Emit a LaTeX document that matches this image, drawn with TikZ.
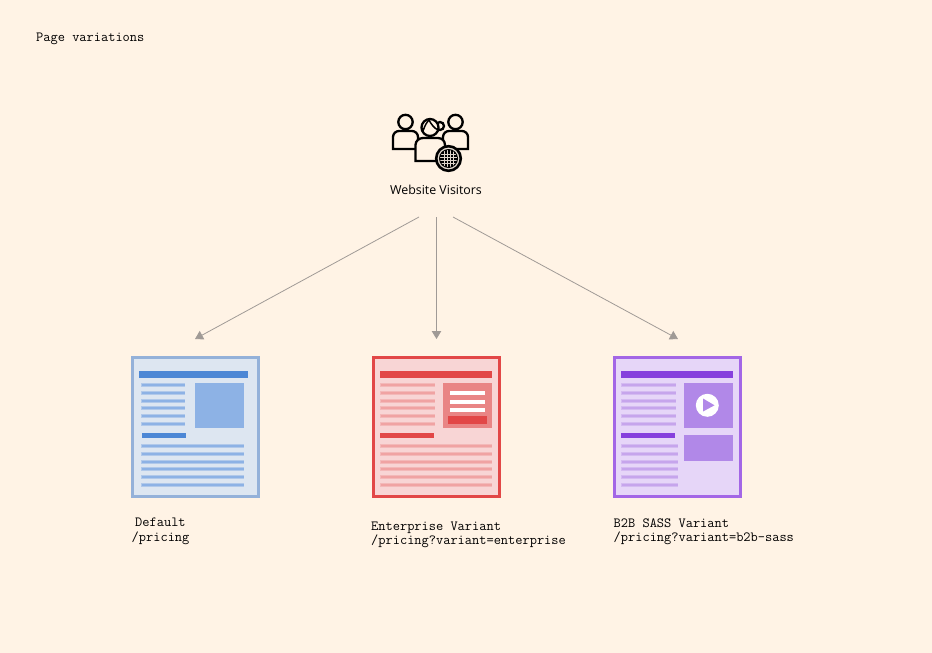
\documentclass[tikz,border=0pt]{standalone}
\usepackage{fontspec}
\setsansfont{Open Sans}
\usetikzlibrary{arrows.meta}
\definecolor{bgc}{HTML}{FFF3E5}
\definecolor{arrowc}{HTML}{A09A96}
\definecolor{bluefill}{HTML}{DDE6F1}
\definecolor{blueedge}{HTML}{94B1D9}
\definecolor{bluedark}{HTML}{4C87D5}
\definecolor{bluemid}{HTML}{8DB2E5}
\definecolor{redfill}{HTML}{F8D5D5}
\definecolor{rededge}{HTML}{E24747}
\definecolor{redmid}{HTML}{F0A3A3}
\definecolor{redimg}{HTML}{E98585}
\definecolor{purfill}{HTML}{E6D6F8}
\definecolor{puredge}{HTML}{A366E6}
\definecolor{purdark}{HTML}{8640DD}
\definecolor{purmid}{HTML}{C6A5EC}
\definecolor{purimg}{HTML}{B188E8}
\tikzset{
  x=1pt,y=-1pt,
  pagebox/.style={draw,line width=3pt,minimum width=126pt,minimum height=139pt,inner sep=0pt},
  caption/.style={font=\ttfamily\fontsize{14}{14}\selectfont,text=black,align=left,anchor=north west,inner sep=0pt},
  link/.style={draw=arrowc,line width=0.8pt,-{Triangle[length=8pt,width=9.5pt,fill=arrowc]}},
  icon/.style={line width=2.3pt,draw=black,fill=bgc,line join=miter},
}
\newcommand{\barlines}[4]{\foreach \yy in {#4} {\fill[#1,opacity=.55] (#2,\yy-2) rectangle (#3,\yy+2);\fill[#1] (#2+.6,\yy-1.2) rectangle (#3,\yy+1.2);}}
\begin{document}
\begin{tikzpicture}
\useasboundingbox (0,0) rectangle (932,653);
\fill[bgc] (0,0) rectangle (932,653);

\node[caption] (title) at (36,33) {Page variations};

% visitors icon
\draw[icon] (393,149) -- (393,137) .. controls (393,133.5) and (396,131) .. (399,131) -- (412,131) .. controls (415,131) and (418,133.5) .. (418,137) -- (418,149) -- cycle;
\draw[icon] (443,149) -- (443,137) .. controls (443,133.5) and (446,131) .. (449,131) -- (462,131) .. controls (465,131) and (468,133.5) .. (468,137) -- (468,149) -- cycle;
\draw[icon] (405.5,122) circle (7.2);
\draw[icon] (455.5,122) circle (7.2);
\draw[icon] (415.5,161) -- (415.5,145) .. controls (415.5,141) and (419,138) .. (423,138) -- (438,138) .. controls (442,138) and (445,141) .. (445,145) -- (445,161) -- cycle;
\draw[icon] (440,126) circle (4);
\draw[icon] (430,127.5) circle (8.5);
\draw[line width=1.5pt] (423,131) .. controls (425,125) and (427,122) .. (429,120) .. controls (431,124) and (434,128) .. (438,130);
\draw[line width=2.6pt,draw=black,fill=bgc!80!gray] (448.5,158.5) circle (12.3);
\fill[black] (448.5,158.5) circle (9.5);
\begin{scope}
\clip (448.5,158.5) circle (8.5);
\foreach \dd in {-4.5,-1.5,1.5,4.5} {
  \draw[bgc!75!gray,line width=1pt] (448.5+\dd,148) -- (448.5+\dd,169);
  \draw[bgc!75!gray,line width=1pt] (438,158.5+\dd) -- (459,158.5+\dd);
}
\end{scope}

\node[font=\sffamily\fontsize{12.4}{14}\selectfont,text=black,inner sep=0pt] (visitors) at (436,190) {Website Visitors};

\coordinate (fromA) at (419,217);
\coordinate (fromB) at (436.5,217);
\coordinate (fromC) at (453,217);
\coordinate (toA) at (195,339);
\coordinate (toB) at (436.5,339);
\coordinate (toC) at (678,339);
\draw[link] (fromA) -- (toA);
\draw[link] (fromB) -- (toB);
\draw[link] (fromC) -- (toC);

% default page
\node[pagebox,draw=blueedge,fill=bluefill] (pageA) at (195.5,427) {};
\fill[bluedark] (139,371) rectangle (248,378);
\barlines{bluemid}{141}{185}{385,393,401,408,416,424}
\fill[bluemid] (195,383) rectangle (244,428);
\fill[bluedark] (142,432.5) rectangle (186,437.5);
\barlines{bluemid}{141}{244}{446,454,462,469,477,485}

% enterprise page
\node[pagebox,draw=rededge,fill=redfill] (pageB) at (436.5,427) {};
\fill[rededge] (380,371) rectangle (492,378);
\barlines{redmid}{380}{435}{385,393,401,408,416,424}
\fill[redimg] (443,383) rectangle (492,428);
\fill[white] (450,391) rectangle (485,395);
\fill[white] (450,400) rectangle (485,404);
\fill[white] (450,408) rectangle (485,412);
\fill[rededge] (448,416) rectangle (487,424);
\fill[rededge] (380,433) rectangle (434,438);
\barlines{redmid}{380}{492}{446,454,462,469,477,485}

% b2b page
\node[pagebox,draw=puredge,fill=purfill] (pageC) at (677.5,427) {};
\fill[purdark] (621,371) rectangle (733,378);
\barlines{purmid}{621}{676}{385,393,401,408,416,424}
\fill[purimg] (684,383) rectangle (733,428);
\fill[white] (707.3,405.3) circle (11.5);
\fill[purimg] (703,398.5) -- (714.5,405.3) -- (703,411.5) -- cycle;
\fill[purdark] (621,433) rectangle (675,438);
\barlines{purmid}{621}{678}{446,454,462,469,477,485}
\fill[purimg] (684,435) rectangle (733,461);

\node[caption] (capA1) at (135,517.5) {Default};
\node[caption] (capA2) at (131.5,531.5) {/pricing};
\node[caption] (capB) at (371,521.5) {Enterprise Variant\\/pricing?variant=enterprise};
\node[caption] (capC) at (613.5,518.5) {B2B SASS Variant\\/pricing?variant=b2b-sass};
\end{tikzpicture}
\end{document}
